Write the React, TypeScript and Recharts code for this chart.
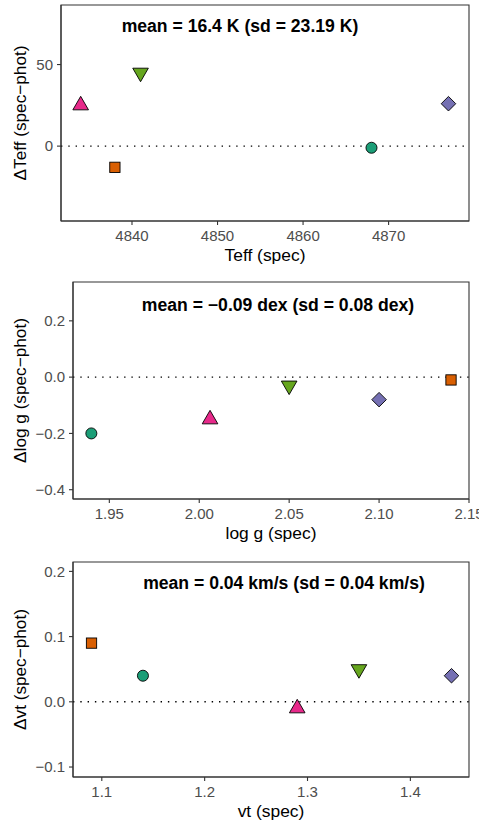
import React from 'react';
import { ScatterChart, Scatter, XAxis, YAxis, ReferenceLine, ReferenceArea, Customized } from 'recharts';

const FONT = '"Liberation Sans", Arial, Helvetica, sans-serif';

// one entry per star, same order in every array
const starShapes = ['circle', 'square', 'diamond', 'triangleUp', 'triangleDown'];
const starColors = ['#1B9E77', '#D95F02', '#7570B3', '#E7298A', '#66A61E'];

const teffSpec = [4868, 4838, 4877, 4834, 4841];
const teffDelta = [-1, -13, 26, 25, 45];
const loggSpec = [1.94, 2.14, 2.1, 2.006, 2.05];
const loggDelta = [-0.2, -0.01, -0.08, -0.15, -0.03];
const vtSpec = [1.14, 1.09, 1.44, 1.29, 1.35];
const vtDelta = [0.04, 0.09, 0.04, -0.01, 0.05];

const teffTicks = [4840, 4850, 4860, 4870];
const teffDeltaTicks = [0, 50];
const loggTicks = [1.95, 2.0, 2.05, 2.1, 2.15];
const loggDeltaTicks = [-0.4, -0.2, 0, 0.2];
const vtTicks = [1.1, 1.2, 1.3, 1.4];
const vtDeltaTicks = [-0.1, 0, 0.1, 0.2];

const S = 5.8;

function Marker({ cx, cy, kind, fill }: any) {
  if (cx == null || cy == null) return null;
  const common = { fill, stroke: '#000', strokeWidth: 0.9 };
  if (kind === 'circle') return <circle cx={cx} cy={cy} r={S * 0.95} {...common} />;
  if (kind === 'square') {
    const h = 0.886 * S;
    return <rect x={cx - h} y={cy - h} width={2 * h} height={2 * h} {...common} />;
  }
  if (kind === 'diamond') {
    const d = 1.2533 * S;
    return <polygon points={`${cx},${cy - d} ${cx + d},${cy} ${cx},${cy + d} ${cx - d},${cy}`} {...common} />;
  }
  const r = 1.5551 * S;
  const xc = 1.3468 * S;
  const yc = 0.7776 * S;
  if (kind === 'triangleUp') {
    return <polygon points={`${cx},${cy - r} ${cx + xc},${cy + yc} ${cx - xc},${cy + yc}`} {...common} />;
  }
  return <polygon points={`${cx},${cy + r} ${cx + xc},${cy - yc} ${cx - xc},${cy - yc}`} {...common} />;
}

const minus = (s: string) => s.replace('-', '\u2212');

function Panel(props: any) {
  const {
    top, height, margin, yWidth, xs, ys, xDomain, yDomain, xTicks, yTicks, xFmt, yFmt,
    title, titleX, titleY, xLabel, yLabel,
  } = props;
  const plotLeft = margin.left + yWidth;
  const plotRight = 479 - margin.right;
  const plotBottom = height - margin.bottom - 40;
  const cxMid = (plotLeft + plotRight) / 2;
  const cyMid = (margin.top + plotBottom) / 2;

  return (
    <div style={{ position: 'absolute', left: 0, top, width: 479, height }}>
      <ScatterChart width={479} height={height} margin={margin}>
        <XAxis
          type="number"
          dataKey="x"
          domain={xDomain}
          allowDataOverflow
          ticks={xTicks}
          interval={0}
          tickFormatter={xFmt}
          height={40}
          tickSize={4}
          tickMargin={5}
          axisLine={{ stroke: '#333', strokeWidth: 1.1 }}
          tickLine={{ stroke: '#333', strokeWidth: 1.1 }}
          tick={{ fontSize: 15, fill: '#4D4D4D', fontFamily: FONT }}
        />
        <YAxis
          type="number"
          dataKey="y"
          domain={yDomain}
          allowDataOverflow
          ticks={yTicks}
          interval={0}
          tickFormatter={yFmt}
          width={yWidth}
          tickSize={4}
          tickMargin={4}
          axisLine={{ stroke: '#333', strokeWidth: 1.1 }}
          tickLine={{ stroke: '#333', strokeWidth: 1.1 }}
          tick={{ fontSize: 15, fill: '#4D4D4D', fontFamily: FONT }}
        />
        <ReferenceArea
          x1={xDomain[0]}
          x2={xDomain[1]}
          y1={yDomain[0]}
          y2={yDomain[1]}
          fill="none"
          stroke="#333"
          strokeWidth={1.1}
        />
        {starShapes.map((kind, i) => (
          <Scatter
            key={kind}
            data={[{ x: xs[i], y: ys[i] }]}
            isAnimationActive={false}
            shape={(p: any) => <Marker cx={p.cx} cy={p.cy} kind={kind} fill={starColors[i]} />}
          />
        ))}
        <ReferenceLine y={0} stroke="#000" strokeWidth={1.4} strokeDasharray="1.4 5.9" />
        <Customized
          component={() => (
            <g fontFamily={FONT}>
              <text x={titleX} y={titleY} textAnchor="middle" fontSize={17.6} fontWeight="bold" fill="#000">
                {title}
              </text>
              <text x={cxMid} y={plotBottom + 39.5} textAnchor="middle" fontSize={17.4} fill="#000">
                {xLabel}
              </text>
              <text
                x={20}
                y={cyMid}
                dy="0.35em"
                textAnchor="middle"
                fontSize={17.2}
                fill="#000"
                transform={`rotate(-90, 20, ${cyMid})`}
              >
                {yLabel}
              </text>
            </g>
          )}
        />
      </ScatterChart>
    </div>
  );
}

export default function App() {
  return (
    <div style={{ position: 'absolute', left: 0, top: 0, width: 479, height: 825, background: '#fff' }}>
      <Panel
        top={0}
        height={270}
        margin={{ top: 5, right: 10, bottom: 9, left: 0 }}
        yWidth={61}
        xs={teffSpec}
        ys={teffDelta}
        xDomain={[4831.7, 4879.4]}
        yDomain={[-45.9, 86.5]}
        xTicks={teffTicks}
        yTicks={teffDeltaTicks}
        xFmt={(v: number) => String(v)}
        yFmt={(v: number) => minus(String(v))}
        title="mean = 16.4 K (sd = 23.19 K)"
        titleX={240}
        titleY={32}
        xLabel="Teff (spec)"
        yLabel={'\u0394Teff (spec\u2212phot)'}
      />
      <Panel
        top={275}
        height={275}
        margin={{ top: 7, right: 10, bottom: 11, left: 0 }}
        yWidth={73}
        xs={loggSpec}
        ys={loggDelta}
        xDomain={[1.9298, 2.15]}
        yDomain={[-0.433, 0.338]}
        xTicks={loggTicks}
        yTicks={loggDeltaTicks}
        xFmt={(v: number) => v.toFixed(2)}
        yFmt={(v: number) => minus(v.toFixed(1))}
        title={'mean = \u22120.09 dex (sd = 0.08 dex)'}
        titleX={278}
        titleY={36}
        xLabel="log g (spec)"
        yLabel={'\u0394log g (spec\u2212phot)'}
      />
      <Panel
        top={550}
        height={275}
        margin={{ top: 12, right: 10, bottom: 8, left: 0 }}
        yWidth={73}
        xs={vtSpec}
        ys={vtDelta}
        xDomain={[1.072, 1.457]}
        yDomain={[-0.1153, 0.2144]}
        xTicks={vtTicks}
        yTicks={vtDeltaTicks}
        xFmt={(v: number) => v.toFixed(1)}
        yFmt={(v: number) => minus(v.toFixed(1))}
        title="mean = 0.04 km/s (sd = 0.04 km/s)"
        titleX={284}
        titleY={39}
        xLabel="vt (spec)"
        yLabel={'\u0394vt (spec\u2212phot)'}
      />
    </div>
  );
}
